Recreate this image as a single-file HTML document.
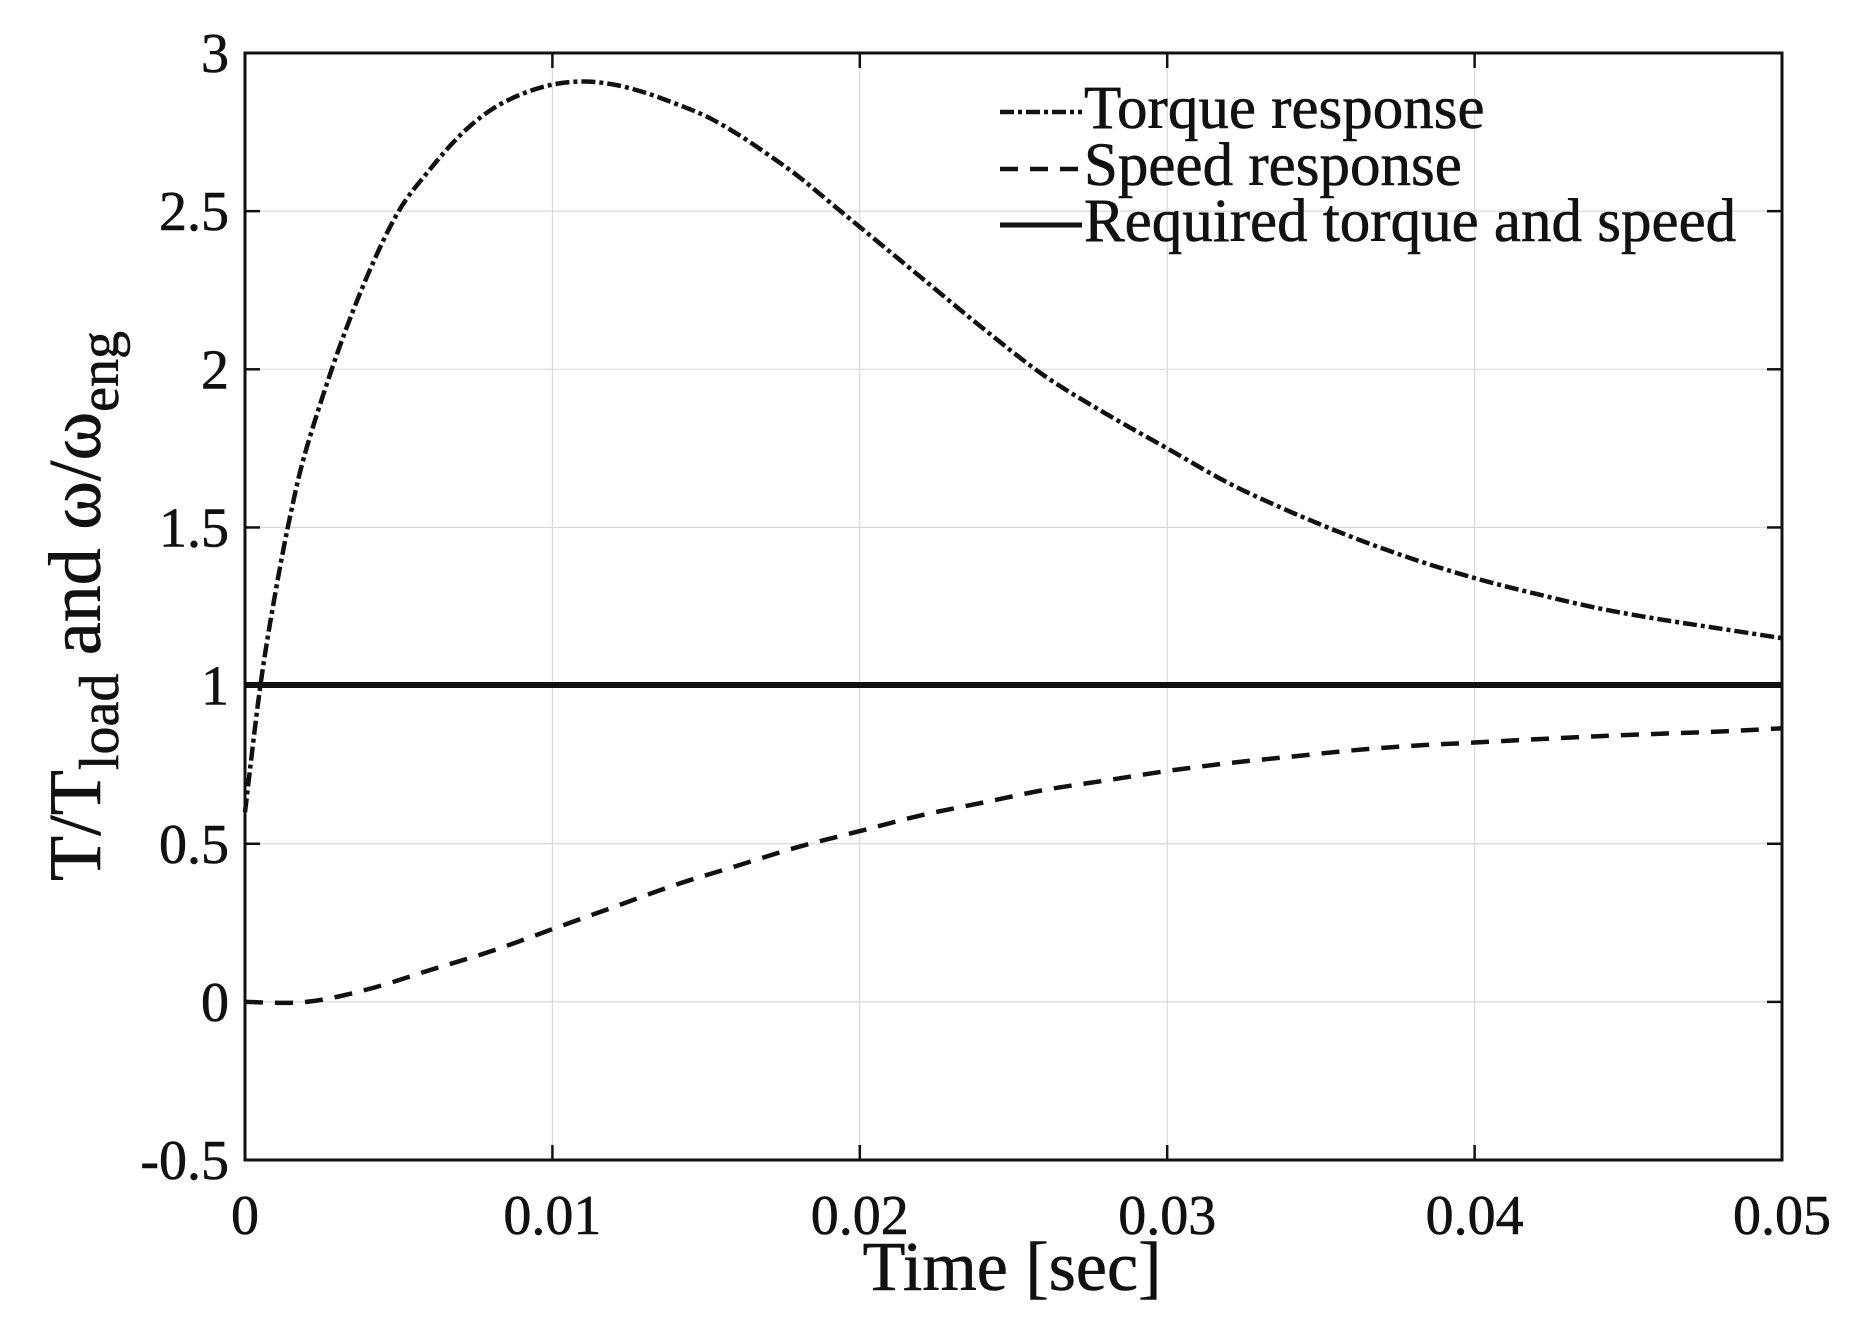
<!DOCTYPE html>
<html><head><style>
html,body{margin:0;padding:0;background:#fff;}
svg{display:block;}
text{font-family:"Liberation Serif",serif;fill:#111;stroke:#111;stroke-width:0.6;}
</style></head><body>
<svg id="s" width="1856" height="1332" viewBox="0 0 1856 1332" xmlns="http://www.w3.org/2000/svg">
<g id="grid" stroke="#d8d8d8" stroke-width="1.2"></g>
<g id="ticks" stroke="#111" stroke-width="2.5"></g>
<g id="lbl" font-size="56"></g>
<path id="spd" fill="none" stroke="#111" stroke-width="4.5" stroke-dasharray="18,12"/>
<path id="trq" fill="none" stroke="#111" stroke-width="4.5" stroke-dasharray="14,4,4,4"/>
<line x1="245" y1="685" x2="1782" y2="685" stroke="#111" stroke-width="6"/>
<rect x="245" y="53" width="1537" height="1107" fill="none" stroke="#111" stroke-width="3"/>
<line x1="1000" y1="112" x2="1082" y2="112" stroke="#111" stroke-width="4.5" stroke-dasharray="14,4,4,4"/>
<line x1="1000" y1="169" x2="1082" y2="169" stroke="#111" stroke-width="4.5" stroke-dasharray="18,12"/>
<line x1="1000" y1="225" x2="1082" y2="225" stroke="#111" stroke-width="5"/>
<text x="1084" y="128" font-size="61">Torque response</text>
<text x="1084" y="185" font-size="61">Speed response</text>
<text x="1084" y="241" font-size="61">Required torque and speed</text>
<text x="1012" y="1290" font-size="70" text-anchor="middle">Time [sec]</text>
<text transform="translate(100,606) rotate(-90)" font-size="74" text-anchor="middle">T/T<tspan font-size="56" dy="18">load</tspan><tspan dy="-18"> and ω/ω</tspan><tspan font-size="56" dy="18">eng</tspan></text>
</svg>
<script>
var X=function(t){return 245+t/0.05*1537;},Y=function(v){return 53+(3-v)*316.3;};
var g=document.getElementById('grid'),tk=document.getElementById('ticks'),lb=document.getElementById('lbl');
var ns="http://www.w3.org/2000/svg";
function el(p,n,a,txt){var e=document.createElementNS(ns,n);for(var k in a)e.setAttribute(k,a[k]);if(txt!==undefined)e.textContent=txt;p.appendChild(e);}
var xl=["0","0.01","0.02","0.03","0.04","0.05"];
for(var i=0;i<6;i++){var x=X(i*0.01);
 if(i>0&&i<5)el(g,'line',{x1:x,y1:53,x2:x,y2:1160});
 el(tk,'line',{x1:x,y1:1160,x2:x,y2:1145});el(tk,'line',{x1:x,y1:53,x2:x,y2:68});
 el(lb,'text',{x:x,y:1234,'text-anchor':'middle'},xl[i]);}
var yl=["-0.5","0","0.5","1","1.5","2","2.5","3"];
for(var j=0;j<8;j++){var v=-0.5+j*0.5,y=Y(v);
 if(j>0&&j<7)el(g,'line',{x1:245,y1:y,x2:1782,y2:y});
 el(tk,'line',{x1:245,y1:y,x2:260,y2:y});el(tk,'line',{x1:1782,y1:y,x2:1767,y2:y});
 el(lb,'text',{x:229,y:y+19,'text-anchor':'end'},yl[j]);}
var T=[[0,0.6],[0.0005,1.0],[0.001,1.3],[0.0015,1.55],[0.002,1.75],[0.003,2.05],[0.004,2.3],[0.005,2.5],[0.006,2.63],[0.007,2.74],[0.008,2.82],[0.009,2.87],[0.010,2.90],[0.011,2.91],[0.012,2.90],[0.013,2.875],[0.014,2.84],[0.015,2.80],[0.016,2.745],[0.017,2.68],[0.018,2.61],[0.019,2.53],[0.020,2.45],[0.022,2.29],[0.024,2.13],[0.026,1.98],[0.028,1.86],[0.030,1.75],[0.032,1.64],[0.034,1.55],[0.036,1.47],[0.038,1.40],[0.040,1.34],[0.042,1.29],[0.044,1.245],[0.046,1.21],[0.048,1.18],[0.050,1.15]];
var S=[[0,0],[0.002,0.0],[0.004,0.04],[0.006,0.10],[0.008,0.16],[0.010,0.23],[0.012,0.30],[0.014,0.37],[0.016,0.43],[0.018,0.49],[0.020,0.54],[0.022,0.59],[0.024,0.63],[0.026,0.67],[0.028,0.70],[0.030,0.73],[0.032,0.755],[0.034,0.775],[0.036,0.795],[0.038,0.81],[0.040,0.82],[0.044,0.84],[0.048,0.855],[0.050,0.865]];
function path(P){var pts=P.map(function(p){return [X(p[0]),Y(p[1])];});var d="M"+pts[0][0]+","+pts[0][1];
 for(var i=0;i<pts.length-1;i++){var p0=pts[i>0?i-1:0],p1=pts[i],p2=pts[i+1],p3=pts[i+2<pts.length?i+2:i+1];
  d+=" C"+(p1[0]+(p2[0]-p0[0])/6)+","+(p1[1]+(p2[1]-p0[1])/6)+" "+(p2[0]-(p3[0]-p1[0])/6)+","+(p2[1]-(p3[1]-p1[1])/6)+" "+p2[0]+","+p2[1];}
 return d;}
document.getElementById('trq').setAttribute('d',path(T));
document.getElementById('spd').setAttribute('d',path(S));
</script>
</body></html>
